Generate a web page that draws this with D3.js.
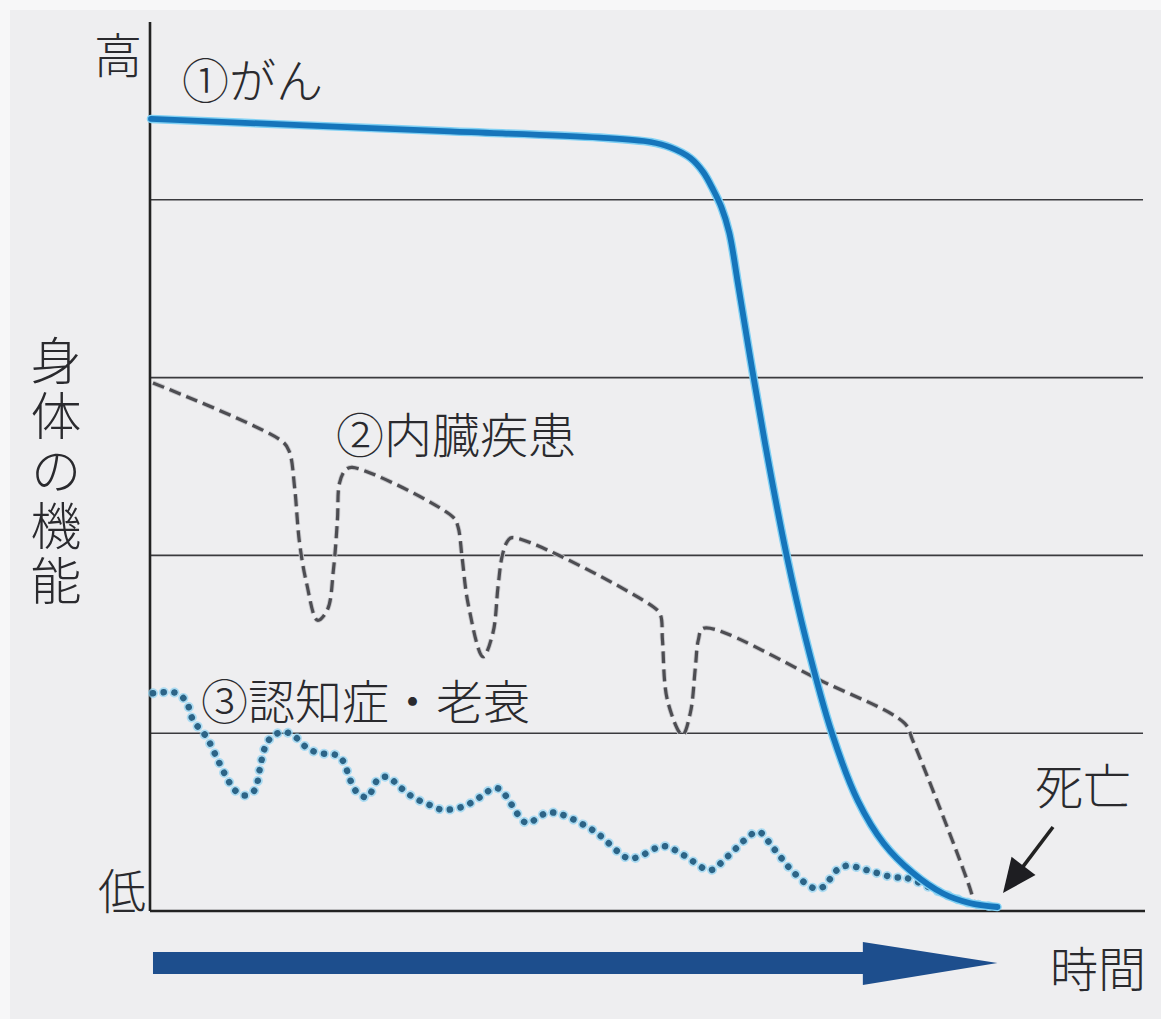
<!DOCTYPE html>
<html><head><meta charset="utf-8">
<script src="https://cdn.jsdelivr.net/npm/d3@7"></script>
<style>html,body{margin:0;padding:0;background:#f7f7f8;} svg{display:block}</style>
</head><body>
<svg id="c" width="1161" height="1019"></svg>
<script>
// ---- data (time 0..1000, physical function 0..100) ----
const cancerT = [1,150,301,451,502,522,542,555,565,573,581,590,604,620,638,658,684,710,736,765,795,822,850];
const cancerV = [89.1,88.4,87.7,87.0,86.5,85.9,84.7,83.1,81.1,79.2,76.3,70.4,60.9,50.7,40.3,30.5,20.0,12.4,7.6,4.3,2.0,0.9,0.45];

const organT = [3,133,140,145,150,157,168,178,184,188,190,196,203,304,309,313,319,334,344,349,353,358,363,505,512,514,519,534,542,547,550,555,675,757,765,822,827];
const organV = [59.4,52.8,51.6,47.7,41.4,36.9,32.7,33.9,38.4,44.0,48.1,49.6,49.9,44.3,43.2,39.8,34.6,28.6,31.3,36.4,39.8,41.5,42.0,34.2,33.3,30.5,23.7,19.8,22.3,27.4,30.5,31.8,25.8,21.1,19.2,2.7,0.7];

const dementiaT = [3,27,37,43,57,68,77,85,95,105,110,115,122,132,142,157,168,188,194,201,208,218,228,238,251,264,281,293,313,331,341,349,358,368,378,401,444,478,488,515,535,562,579,610,625,645,665,675,689,699,719,745,759,795,822,850];
const dementiaV = [24.5,24.5,23.4,21.5,19.5,17.0,15.0,13.6,13.0,13.6,15.9,18.3,19.6,20.1,19.9,18.4,17.8,17.5,16.8,14.7,13.3,12.8,14.7,15.1,13.9,12.8,11.9,11.4,11.7,12.8,13.6,13.8,12.8,11.0,9.9,11.1,9.1,6.0,6.0,7.3,6.3,4.6,6.1,8.9,7.1,4.4,2.6,2.7,4.6,5.1,4.6,3.8,3.7,2.0,0.9,0.45];

const gridLevels = [20,40,60,80];
const seriesLabels = ["①がん","②内臓疾患","③認知症・老衰"];
const axisHigh = "高", axisLow = "低";
const axisTitle = "身体の機能";
const timeLabel = "時間";
const deathLabel = "死亡";

// ---- chart ----
const svg = d3.select("#c");
const W = 1161, H = 1019;
const FONT = "'Noto Sans CJK JP','Noto Sans',sans-serif";
const x = d3.scaleLinear().domain([0,1000]).range([150,1147]);
const y = d3.scaleLinear().domain([0,100]).range([911,22]);

svg.append("rect").attr("x",10).attr("y",10).attr("width",W-10).attr("height",H-10).attr("fill","#eeeef0");

// grid lines
svg.append("g").selectAll("line").data(gridLevels).join("line")
  .attr("x1",x(0)).attr("x2",x(996)).attr("y1",d=>y(d)).attr("y2",d=>y(d))
  .attr("stroke","#3a3a3e").attr("stroke-width",1.6);

// axes
svg.append("line").attr("x1",x(0)).attr("x2",x(0)).attr("y1",y(100)).attr("y2",y(0))
  .attr("stroke","#222").attr("stroke-width",2.6);
svg.append("line").attr("x1",x(0)).attr("x2",x(998)).attr("y1",y(0)).attr("y2",y(0))
  .attr("stroke","#222").attr("stroke-width",2.6);

const line = d3.line().x(d=>x(d[0])).y(d=>y(d[1])).curve(d3.curveCatmullRom.alpha(0.5));
const zip = (a,b)=>a.map((t,i)=>[t,b[i]]);
const cancer = zip(cancerT,cancerV), organ = zip(organT,organV), dementia = zip(dementiaT,dementiaV);

// organ failure (dashed)
svg.append("path").attr("d",line(organ)).attr("fill","none")
  .attr("stroke","#c8c8cc").attr("stroke-width",5).attr("stroke-dasharray","12 6");
svg.append("path").attr("d",line(organ)).attr("fill","none")
  .attr("stroke","#4d4d52").attr("stroke-width",3.2).attr("stroke-dasharray","12 6");

// dementia (dotted)
svg.append("path").attr("d",line(dementia)).attr("fill","none")
  .attr("stroke","#8fd3f2").attr("stroke-width",10).attr("stroke-linecap","round")
  .attr("stroke-dasharray","0.1 10.6").attr("opacity",0.7);
svg.append("path").attr("d",line(dementia)).attr("fill","none")
  .attr("stroke","#2c6487").attr("stroke-width",6.5).attr("stroke-linecap","round")
  .attr("stroke-dasharray","0.1 10.6");

// cancer (solid)
svg.append("path").attr("d",line(cancer)).attr("fill","none")
  .attr("stroke","#7fd0f4").attr("stroke-width",8.5).attr("stroke-linecap","round");
svg.append("path").attr("d",line(cancer)).attr("fill","none")
  .attr("stroke","#1675bb").attr("stroke-width",5.8).attr("stroke-linecap","round");

// time arrow
const ay = 963;
const arrowPts = [[x(3),ay-11],[x(715),ay-11],[x(715),ay-21],[x(850),ay],[x(715),ay+22],[x(715),ay+11],[x(3),ay+11]];
svg.append("path").attr("d","M"+arrowPts.map(p=>p.join(",")).join("L")+"Z").attr("fill","#1d4e8d");

// death arrow
const tip=[1003,893], tail=[1053,827];
const dx=tip[0]-tail[0], dy=tip[1]-tail[1], L=Math.hypot(dx,dy), ux=dx/L, uy=dy/L;
const hl=34, hw=15;
const bx=tip[0]-hl*ux, by=tip[1]-hl*uy;
svg.append("line").attr("x1",tail[0]).attr("y1",tail[1]).attr("x2",bx+4*ux).attr("y2",by+4*uy)
  .attr("stroke","#222").attr("stroke-width",3.6);
svg.append("path").attr("d",`M${tip[0]},${tip[1]}L${bx-hw*uy},${by+hw*ux}L${bx+hw*uy},${by-hw*ux}Z`).attr("fill","#1e1e22");

// text
const T = (s,xx,yy,anchor="start",fs=48)=>svg.append("text").text(s).attr("x",xx).attr("y",yy)
  .attr("text-anchor",anchor).attr("dominant-baseline","central")
  .attr("font-family",FONT).attr("font-size",fs).attr("font-weight",300).attr("fill","#2a2a2e");
T(axisHigh,118,52,"middle");
T(axisLow,122,888,"middle");
T(seriesLabels[0],182,77,"start",47);
T(seriesLabels[1],336,432,"start",48);
T(seriesLabels[2],201,698,"start",47);
T(deathLabel,1083,783,"middle",48);
T(timeLabel,1098,966,"middle",48);
svg.append("text").text(axisTitle).attr("x",56).attr("y",335)
  .style("writing-mode","vertical-rl").attr("letter-spacing",4)
  .attr("font-family",FONT).attr("font-size",51).attr("font-weight",300).attr("fill","#2a2a2e");
</script>
</body></html>
